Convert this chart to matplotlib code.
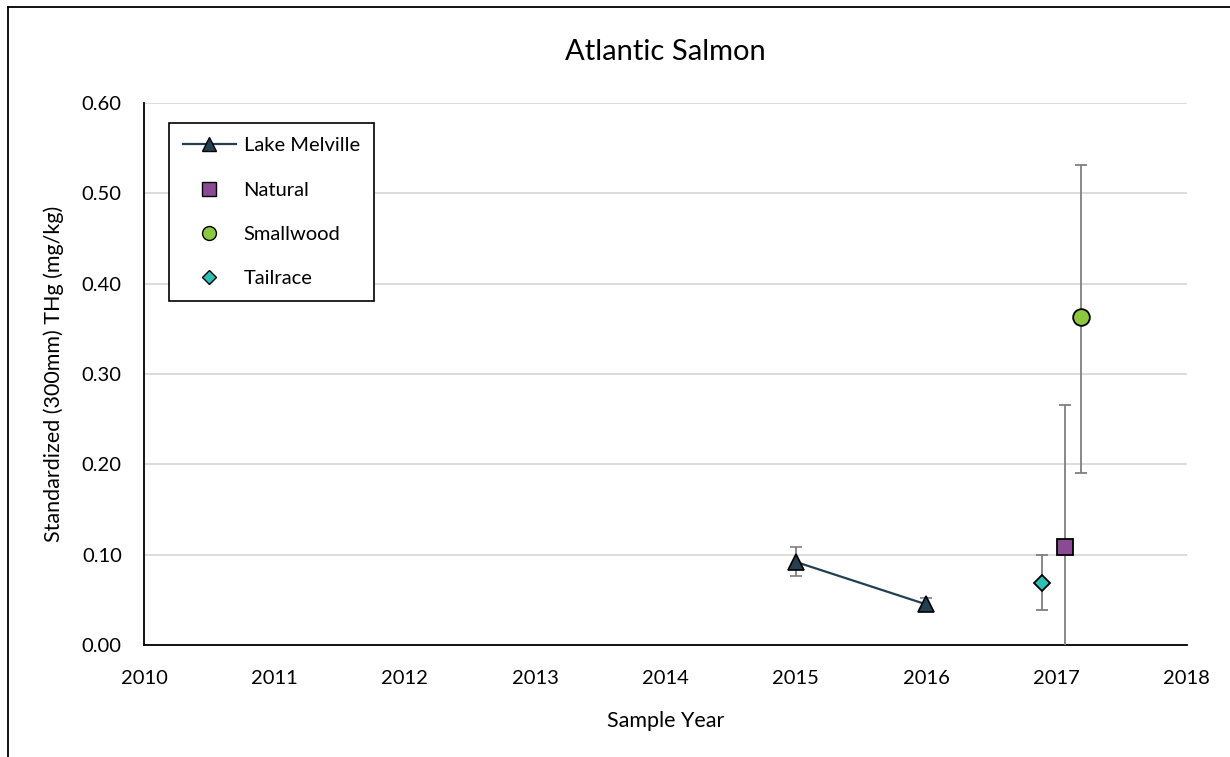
import matplotlib
matplotlib.use("Agg")
import matplotlib.pyplot as plt
from matplotlib.lines import Line2D

plt.rcParams['font.family'] = ['Lato', 'DejaVu Sans']

# Lake Melville (connected series)
lm_year = [2015, 2016]
lm_thg = [0.092, 0.045]
lm_err_lo = [0.016, 0.007]
lm_err_hi = [0.017, 0.007]

# single-year sites (offset around 2017)
nat_year = [2017.07]
nat_thg = [0.109]
nat_err_lo = [0.16]
nat_err_hi = [0.157]

sw_year = [2017.19]
sw_thg = [0.363]
sw_err_lo = [0.173]
sw_err_hi = [0.168]

tr_year = [2016.89]
tr_thg = [0.069]
tr_err_lo = [0.03]
tr_err_hi = [0.031]

xticks = list(range(2010, 2019))
yticks = [0.0, 0.1, 0.2, 0.3, 0.4, 0.5, 0.6]

fig = plt.figure(figsize=(12.3, 7.57), dpi=100)
ax = fig.add_axes([0.1171, 0.148, 0.8477, 0.7159])

errkw = dict(ecolor='#7f7f7f', elinewidth=1.3, capsize=4.5, capthick=1.3, zorder=3)

ax.errorbar(lm_year, lm_thg, yerr=[lm_err_lo, lm_err_hi], color='#243f4f',
            lw=1.6, marker='^', ms=12, mfc='#243f4f', mec='black', mew=1.2,
            label='Lake Melville', **errkw)
ax.errorbar(nat_year, nat_thg, yerr=[nat_err_lo, nat_err_hi], ls='none',
            marker='s', ms=12, mfc='#8b4a96', mec='black', mew=1.3,
            label='Natural', **errkw)
ax.errorbar(sw_year, sw_thg, yerr=[sw_err_lo, sw_err_hi], ls='none',
            marker='o', ms=12, mfc='#8dc63f', mec='black', mew=1.3,
            label='Smallwood', **errkw)
ax.errorbar(tr_year, tr_thg, yerr=[tr_err_lo, tr_err_hi], ls='none',
            marker='D', ms=8.5, mfc='#2ebfb7', mec='black', mew=1.3,
            label='Tailrace', **errkw)

ax.set_xlim(2010, 2018)
ax.set_ylim(0, 0.6)
ax.set_xticks(xticks)
ax.set_yticks(yticks)
ax.set_yticklabels([f'{v:.2f}' for v in yticks])
ax.tick_params(length=0, labelsize=14.5, colors='black')
ax.tick_params(axis='y', pad=16)
ax.tick_params(axis='x', pad=18)
ax.grid(axis='y', color='#d9d9d9', lw=1.3)
ax.set_axisbelow(True)
for s in ['top', 'right']:
    ax.spines[s].set_visible(False)
ax.spines['left'].set_linewidth(1.3)
ax.spines['bottom'].set_linewidth(1.3)

ax.set_xlabel('Sample Year', fontsize=15.5, labelpad=17)
ax.set_ylabel('Standardized (300mm) THg (mg/kg)', fontsize=15.5, labelpad=13)
fig.text(0.541, 0.931, 'Atlantic Salmon', ha='center', va='center', fontsize=21)

# legend: error bars hidden, only line/markers
h = [Line2D([], [], color='#243f4f', lw=1.6, marker='^', ms=10, mfc='#243f4f', mec='black'),
     Line2D([], [], ls='none', marker='s', ms=10, mfc='#8b4a96', mec='black'),
     Line2D([], [], ls='none', marker='o', ms=10, mfc='#8dc63f', mec='black'),
     Line2D([], [], ls='none', marker='D', ms=7.5, mfc='#2ebfb7', mec='black')]
leg = ax.legend(h, ['Lake Melville', 'Natural', 'Smallwood', 'Tailrace'],
                loc='upper left', bbox_to_anchor=(0.024, 0.963), borderaxespad=0,
                fontsize=14.5, frameon=True, fancybox=False, edgecolor='black',
                framealpha=1, labelspacing=1.35, borderpad=0.7, handlelength=2.6,
                handletextpad=0.4)
leg.get_frame().set_linewidth(1.2)

# outer chart frame (cropped on the right and bottom)
fig.add_artist(Line2D([8 / 1230, 8 / 1230], [0, 1 - 7 / 757], color='black', lw=1.3,
                      transform=fig.transFigure))
fig.add_artist(Line2D([8 / 1230, 1], [1 - 7 / 757, 1 - 7 / 757], color='black', lw=1.3,
                      transform=fig.transFigure))

fig.savefig('out.png', dpi=100)
